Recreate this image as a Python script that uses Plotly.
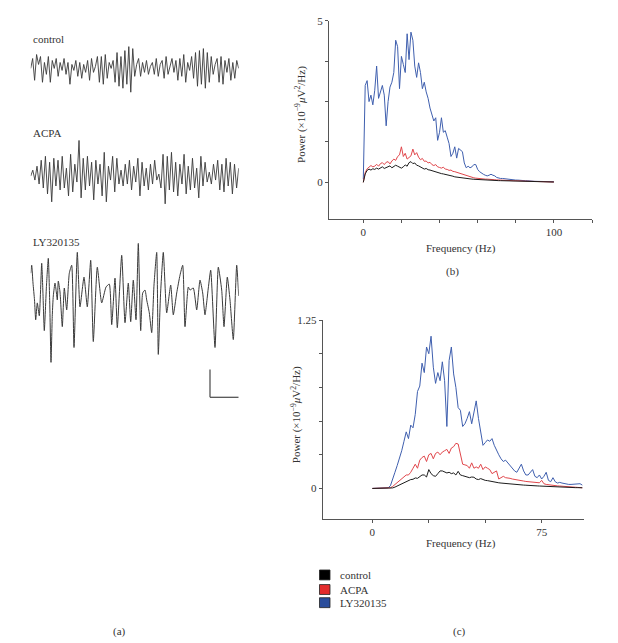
import plotly.graph_objects as go

W, H = 618, 643
FONT = "Liberation Serif"
TXT = "#333333"
AX = "#555555"

# ---------------- (a) raw traces (amplitude, a.u.) ----------------
CONTROL_TRACE = [0, 10, -12, 14, 4, 12, -14, 6, -6, 12, -14, 8, 0, 10, -8, 6, -2, 10, -6, 6, -16, 4, -2, 8, -8,
                 6, -10, 4, -4, 8, -12, 10, -4, 2, 12, -14, 12, -16, 14, -10, 6, 0, 8, -14, 16, -18,
                 12, -20, 18, -16, 22, -24, 20, -8, 4, 10, -8, 6, -4, 8, -6, 2,
                 6, -6, 10, -8, 4, 8, -10, 12, -6, 2, 10, -4, 8, -12, 10, -8, 14, -14, 6, -2, 12, -10,
                 16, -18, 18, -16, 20, -20, 16, -14, 12, -6, 4, 10, -14, 12, -16, 8, -4, 10, -12, 6, -10, 8, 0]
ACPA_TRACE = [0, 6, -4, 10, -8, 16, -12, 20, -18, 14, -26, 18, -10, 16, -14, 20, -12, 8, -20, 22, -16, 12, -6, 36,
              -22, 18, -14, 20, -10, 14, -24, 16, -8, 12, -20, 24, -26, 10, -4, 20, -16, 18, -8, 6, -10, 12, -8,
              16, -14, 10, -6, 18, -20, 14, -10, 8, -14, 12, -8, 16, -4, 2, -12, 22, -28, 20, -14, 24, -16, 14,
              -20, 12, -8, 22, -18, 10, -14, 18, -12, 8, -22, 20, -10, 14, -6, 4, -8, 12, -4, 16, -14, 12, -16,
              18, -10, 14, -18, 12, -12, 8]
LY_TIME = [0, 10, 23, 38, 50, 66, 86, 110, 123, 136, 158, 176, 191, 203, 216, 226, 243, 255, 266, 276,
           293, 316, 336, 360, 386, 410, 433, 466, 493, 533, 566, 600, 626, 666, 710, 753, 786, 810, 843, 866,
           910, 943, 976, 1000, 1026, 1053, 1076, 1100, 1120, 1143, 1160, 1186, 1210, 1233, 1260, 1276, 1298,
           1326, 1360, 1400, 1426, 1460, 1493, 1520, 1543, 1576, 1593, 1626, 1660, 1693, 1720, 1743, 1776,
           1800, 1843, 1876, 1910, 1933, 1966, 1993, 2026, 2060, 2080]
LY_TRACE = [22, 30, 12, -5, -25, -8, -21, 32, 0, -36, 10, 37, -10, -68, -20, -1, 12, 4, -5, 14,
            3, -32, 7, -15, 22, 30, -53, 43, -12, 18, -12, 35, -47, 28, -8, 8, 11, -30, 17, -33,
            40, -28, 12, -27, 15, -25, 52, -36, 2, 5, -5, -18, -38, 10, 43, -60, 0,
            43, -18, 10, -20, 2, 20, 30, -32, 8, 5, 7, -15, 15, 2, -20, 7,
            25, -53, 28, 5, -32, 18, -5, -45, 30, -1]
TRACE_DURATION_MS = 2080

# ---------------- (b) power spectra, 0-100 Hz ----------------
FREQ_B = list(range(0, 101))
CONTROL_B = [0.0, 0.26, 0.37, 0.41, 0.38, 0.42, 0.4, 0.44, 0.41, 0.45, 0.48, 0.43, 0.46, 0.5, 0.51, 0.45, 0.49,
             0.53, 0.5, 0.46, 0.44, 0.48, 0.54, 0.5, 0.61, 0.64, 0.58, 0.6, 0.53, 0.51, 0.47, 0.45, 0.41, 0.43,
             0.39, 0.38, 0.36, 0.34, 0.31, 0.3, 0.29, 0.27, 0.26, 0.25, 0.23, 0.22, 0.2, 0.19, 0.17, 0.16, 0.15,
             0.14, 0.13, 0.12, 0.115, 0.11, 0.105, 0.1, 0.095, 0.09, 0.085, 0.08, 0.075, 0.072, 0.07, 0.068,
             0.065, 0.062, 0.06, 0.058, 0.055, 0.053, 0.052, 0.05, 0.05, 0.048, 0.046, 0.045, 0.043, 0.042,
             0.04, 0.038, 0.036, 0.035, 0.034, 0.033, 0.032, 0.031, 0.03, 0.03, 0.028, 0.026, 0.024, 0.022,
             0.02, 0.018, 0.016, 0.014, 0.012, 0.011, 0.01]
ACPA_B = [0.0, 0.3, 0.42, 0.47, 0.52, 0.48, 0.5, 0.56, 0.5, 0.58, 0.61, 0.55, 0.62, 0.64, 0.57, 0.66, 0.72, 0.68,
          0.8, 0.85, 1.1, 0.8, 0.9, 0.72, 0.78, 0.82, 1.03, 0.85, 0.92, 0.78, 0.7, 0.74, 0.65, 0.66, 0.6, 0.62,
          0.55, 0.52, 0.55, 0.48, 0.46, 0.44, 0.47, 0.41, 0.4, 0.37, 0.38, 0.34, 0.33, 0.31, 0.28, 0.26, 0.24,
          0.22, 0.2, 0.19, 0.17, 0.16, 0.14, 0.13, 0.12, 0.12, 0.11, 0.11, 0.1, 0.1, 0.09, 0.09, 0.08, 0.08,
          0.075, 0.07, 0.07, 0.065, 0.06, 0.06, 0.055, 0.055, 0.05, 0.05, 0.05, 0.045, 0.045, 0.04, 0.04, 0.04,
          0.035, 0.035, 0.03, 0.03, 0.03, 0.025, 0.025, 0.02, 0.02, 0.02, 0.015, 0.015, 0.012, 0.01, 0.01]
LY_B = [0.1, 3.0, 3.15, 2.5, 2.7, 2.4, 2.85, 3.6, 2.6, 2.8, 3.0, 2.7, 1.75, 2.5, 2.95, 3.1, 3.4, 4.4, 4.2, 2.9,
        3.9, 3.65, 3.4, 4.6, 3.8, 4.65, 4.4, 3.6, 3.25, 3.7, 3.4, 2.9, 3.1, 2.8, 2.6, 2.3, 2.05, 1.9, 2.0, 1.3,
        1.55, 2.0, 1.55, 1.6, 1.4, 1.2, 0.8, 0.9, 1.1, 0.75, 1.05, 1.0, 0.95, 0.6, 0.45, 0.5, 0.45, 0.48, 0.55,
        0.55, 0.4, 0.33, 0.28, 0.25, 0.22, 0.2, 0.22, 0.25, 0.22, 0.2, 0.15, 0.13, 0.12, 0.12, 0.11, 0.1, 0.1,
        0.09, 0.08, 0.08, 0.07, 0.07, 0.06, 0.06, 0.05, 0.05, 0.05, 0.04, 0.04, 0.04, 0.03, 0.03, 0.03, 0.03,
        0.02, 0.02, 0.02, 0.02, 0.02, 0.02, 0.02]

# ---------------- (c) power spectra, 0-93 Hz ----------------
FREQ_C = list(range(0, 94))
CONTROL_C = [0, 0, 0, 0, 0, 0, 0, 0, 0, 0.004, 0.01, 0.018, 0.027, 0.035, 0.045, 0.055, 0.058, 0.066, 0.068,
             0.078, 0.075, 0.09, 0.1, 0.1, 0.085, 0.14, 0.11, 0.095, 0.09, 0.11, 0.13, 0.13, 0.125, 0.115, 0.12,
             0.11, 0.115, 0.1, 0.127, 0.1, 0.095, 0.09, 0.085, 0.08, 0.085, 0.083, 0.07, 0.066, 0.073, 0.065,
             0.06, 0.058, 0.054, 0.05, 0.048, 0.045, 0.042, 0.04, 0.038, 0.037, 0.035, 0.034, 0.032, 0.031, 0.03,
             0.028, 0.027, 0.025, 0.024, 0.022, 0.022, 0.021, 0.02, 0.019, 0.018, 0.017, 0.016, 0.015, 0.014,
             0.013, 0.012, 0.012, 0.011, 0.011, 0.01, 0.009, 0.009, 0.008, 0.007, 0.007, 0.006, 0.006, 0.005,
             0.005]
ACPA_C = [0, 0, 0, 0, 0, 0, 0, 0, 0.005, 0.015, 0.03, 0.045, 0.06, 0.075, 0.09, 0.1, 0.1, 0.12, 0.15, 0.18,
          0.15, 0.21, 0.23, 0.24, 0.2, 0.25, 0.26, 0.22, 0.26, 0.27, 0.25, 0.27, 0.28, 0.29, 0.26, 0.3, 0.31,
          0.335, 0.33, 0.26, 0.18, 0.175, 0.17, 0.15, 0.19, 0.15, 0.16, 0.15, 0.18, 0.14, 0.16, 0.15, 0.14,
          0.11, 0.12, 0.13, 0.07, 0.08, 0.09, 0.08, 0.08, 0.075, 0.07, 0.068, 0.065, 0.06, 0.058, 0.055, 0.052,
          0.05, 0.05, 0.048, 0.046, 0.045, 0.042, 0.06, 0.035, 0.03, 0.027, 0.024, 0.021, 0.02, 0.019, 0.018,
          0.017, 0.016, 0.015, 0.014, 0.012, 0.011, 0.01, 0.008, 0.006, 0.005]
LY_C = [0, 0, 0, 0, 0, 0, 0, 0.005, 0.02, 0.08, 0.12, 0.17, 0.22, 0.28, 0.35, 0.42, 0.37, 0.47, 0.45, 0.55,
        0.72, 0.76, 0.93, 0.86, 1.05, 1.0, 1.13, 0.9, 0.78, 0.86, 0.8, 0.94, 0.8, 0.46, 0.95, 1.05, 0.85,
        0.75, 0.6, 0.58, 0.46, 0.48, 0.52, 0.57, 0.48, 0.58, 0.65, 0.52, 0.4, 0.32, 0.34, 0.36, 0.35, 0.37,
        0.32, 0.28, 0.25, 0.22, 0.2, 0.21, 0.19, 0.17, 0.15, 0.13, 0.12, 0.15, 0.18, 0.13, 0.1, 0.1, 0.12,
        0.14, 0.09, 0.08, 0.1, 0.07, 0.09, 0.12, 0.06, 0.05, 0.08, 0.05, 0.04, 0.045, 0.04, 0.035, 0.035,
        0.03, 0.03, 0.03, 0.03, 0.035, 0.035, 0.025]

SERIES_NAMES = ["control", "ACPA", "LY320135"]
LINE_COLORS = ["#1c1c1c", "#e0474c", "#3f5fae"]
SWATCH_COLORS = ["#000000", "#e32b2b", "#2a4d9c"]
TRACE_COLOR = "#3a3a3a"

B_XTICKS = [0, 20, 40, 60, 80, 100, 120]
B_XTEXT = ["0", "", "", "", "", "100", ""]
B_YTICKS = [0, 1.25, 2.5, 3.75, 5]
B_YTEXT = ["0", "", "", "", "5"]
C_XTICKS = [0, 25, 50, 75]
C_XTEXT = ["0", "", "", "75"]
C_YTICKS = [0, 0.25, 0.5, 0.75, 1.0, 1.25]
C_YTEXT = ["0", "", "", "", "", "1.25"]

YLABEL = "Power (×10<sup>−9</sup><i>μ</i>V<sup>2</sup>/Hz)"


def fx(p):
    return p / W


def fy(p):
    return 1 - p / H


fig = go.Figure()

# (a) traces
n_c = len(CONTROL_TRACE)
n_a = len(ACPA_TRACE)
t_c = [TRACE_DURATION_MS * i / (n_c - 1) for i in range(n_c)]
t_a = [TRACE_DURATION_MS * i / (n_a - 1) for i in range(n_a)]
fig.add_trace(go.Scatter(x=t_c, y=CONTROL_TRACE, mode="lines", xaxis="x3", yaxis="y3",
                         line=dict(color=TRACE_COLOR, width=0.9), showlegend=False, hoverinfo="skip"))
fig.add_trace(go.Scatter(x=t_a, y=ACPA_TRACE, mode="lines", xaxis="x4", yaxis="y4",
                         line=dict(color=TRACE_COLOR, width=0.9), showlegend=False, hoverinfo="skip"))
fig.add_trace(go.Scatter(x=LY_TIME, y=LY_TRACE, mode="lines", xaxis="x5", yaxis="y5",
                         line=dict(color=TRACE_COLOR, width=1, shape="spline", smoothing=0.5),
                         showlegend=False, hoverinfo="skip"))

# (b) and (c) spectra
for name, ys, col in zip(SERIES_NAMES[::-1], [LY_B, ACPA_B, CONTROL_B], LINE_COLORS[::-1]):
    fig.add_trace(go.Scatter(x=FREQ_B, y=ys, mode="lines", xaxis="x", yaxis="y",
                             line=dict(color=col, width=1), showlegend=False, name=name))
for name, ys, col in zip(SERIES_NAMES[::-1], [LY_C, ACPA_C, CONTROL_C], LINE_COLORS[::-1]):
    fig.add_trace(go.Scatter(x=FREQ_C, y=ys, mode="lines", xaxis="x2", yaxis="y2",
                             line=dict(color=col, width=1), showlegend=False, name=name))

axcommon = dict(showline=True, linecolor=AX, linewidth=1, ticks="outside", ticklen=3, tickcolor=AX,
                tickwidth=1, showgrid=False, zeroline=False, tickfont=dict(family=FONT, size=11, color=TXT),
                fixedrange=True)
hidden = dict(visible=False, showgrid=False, zeroline=False, fixedrange=True)


# trace axes: 1 amplitude unit = 1 px
def trace_y(center, half):
    return dict(domain=[fy(center + half), fy(center - half)], range=[-half, half], **hidden)


fig.update_layout(
    width=W, height=H, autosize=False,
    margin=dict(l=0, r=0, t=0, b=0),
    paper_bgcolor="white", plot_bgcolor="rgba(0,0,0,0)",
    showlegend=False,
    xaxis=dict(domain=[fx(329), fx(592)], range=[-18, 120], tickvals=B_XTICKS, ticktext=B_XTEXT,
               anchor="y", **axcommon),
    yaxis=dict(domain=[fy(215), fy(15)], range=[-1.135, 5], tickvals=B_YTICKS, ticktext=B_YTEXT,
               anchor="x", **axcommon),
    xaxis2=dict(domain=[fx(322.7), fx(584)], range=[-22, 93.75], tickvals=C_XTICKS, ticktext=C_XTEXT,
                anchor="y2", **axcommon),
    yaxis2=dict(domain=[fy(518), fy(317)], range=[-0.228, 1.25], tickvals=C_YTICKS, ticktext=C_YTEXT,
                anchor="x2", **axcommon),
    xaxis3=dict(domain=[fx(30.7), fx(238.7)], range=[0, TRACE_DURATION_MS], anchor="y3", **hidden),
    yaxis3=trace_y(63, 30) | dict(anchor="x3"),
    xaxis4=dict(domain=[fx(30.7), fx(238.7)], range=[0, TRACE_DURATION_MS], anchor="y4", **hidden),
    yaxis4=trace_y(171.7, 45) | dict(anchor="x4"),
    xaxis5=dict(domain=[fx(30.7), fx(238.7)], range=[0, TRACE_DURATION_MS], anchor="y5", **hidden),
    yaxis5=trace_y(291.7, 75) | dict(anchor="x5"),
)

ann = []


def text(x, y, s, size=11, xanchor="center", angle=0):
    ann.append(dict(x=fx(x), y=fy(y), xref="paper", yref="paper", text=s, showarrow=False,
                    xanchor=xanchor, yanchor="middle", textangle=angle,
                    font=dict(family=FONT, size=size, color=TXT)))


text(31, 33, "control", xanchor="left")
text(31, 128, "ACPA", xanchor="left")
text(31, 238, "LY320135", xanchor="left")
text(461, 245, "Frequency (Hz)")
text(452, 268, "(b)")
text(461, 543, "Frequency (Hz)")
text(459, 631, "(c)")
text(119, 631, "(a)")
text(301, 110, YLABEL, angle=-90)
text(296, 413, YLABEL, angle=-90)

legend_y = [574.3, 589, 602.3]
shapes = []
for name, col, yy in zip(SERIES_NAMES, SWATCH_COLORS, legend_y):
    shapes.append(dict(type="rect", xref="paper", yref="paper", x0=fx(319.5), x1=fx(330),
                       y0=fy(yy + 5), y1=fy(yy - 5), fillcolor=col, line=dict(color="#222", width=0.8)))
    text(337.5, yy, name, xanchor="left")

# scale bar
shapes.append(dict(type="line", xref="paper", yref="paper", x0=fx(210), x1=fx(210), y0=fy(367), y1=fy(395),
                   line=dict(color="#555", width=1.3)))
shapes.append(dict(type="line", xref="paper", yref="paper", x0=fx(210), x1=fx(238.5), y0=fy(395), y1=fy(395),
                   line=dict(color="#555", width=1.3)))

fig.update_layout(annotations=ann, shapes=shapes)
fig.write_html("out.html", config={"displayModeBar": False},
               post_script="document.body.style.margin='0';document.body.style.overflow='hidden';")
